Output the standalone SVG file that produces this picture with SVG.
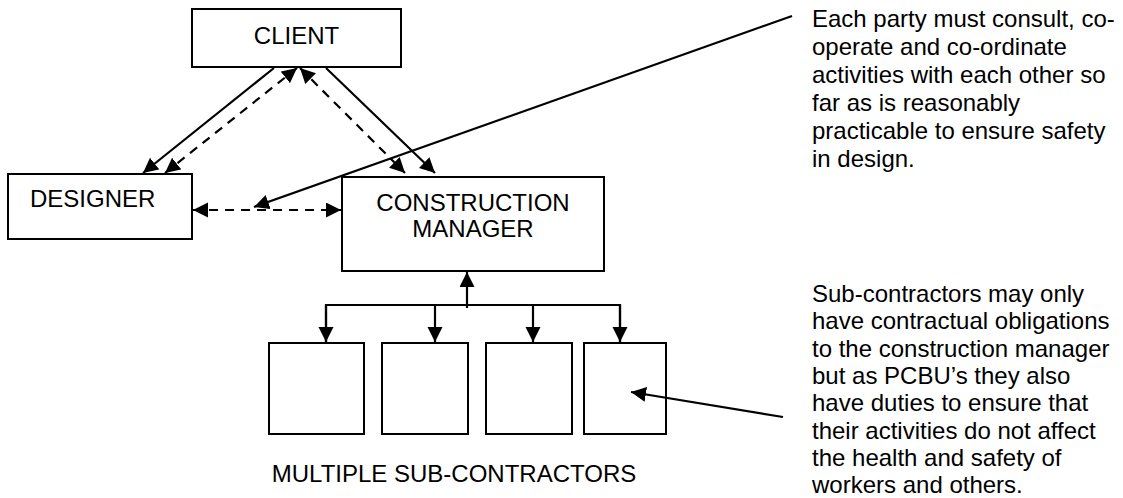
<svg xmlns="http://www.w3.org/2000/svg" width="1123" height="498" viewBox="0 0 1123 498">
<style>
.box{fill:#fff;stroke:#000;stroke-width:2}
.lbl{font-family:"Liberation Sans",Arial,sans-serif;font-size:24px;fill:#000}
.note{font-family:"Liberation Sans",Arial,sans-serif;font-size:24px;fill:#000}
.ln{fill:none;stroke:#000;stroke-width:2.2}
.dash{stroke-dasharray:9 7}
</style>
<defs>
<marker id="ah" markerUnits="userSpaceOnUse" markerWidth="16" markerHeight="16" refX="15" refY="7.5" orient="auto-start-reverse">
<path d="M0,0 L15,7.5 L0,15 z" fill="#000"/>
</marker>
</defs>
<rect width="1123" height="498" fill="#fff"/>
<g id="client"><rect class="box" x="192" y="9" width="209" height="58"/><text class="lbl" x="296.5" y="44" text-anchor="middle">CLIENT</text></g>
<g id="designer"><rect class="box" x="8" y="174" width="184" height="65"/><text class="lbl" x="30" y="207">DESIGNER</text></g>
<g id="cm"><rect class="box" x="342" y="177" width="262" height="94"/><text class="lbl" x="473" y="211" text-anchor="middle">CONSTRUCTION</text><text class="lbl" x="473" y="237" text-anchor="middle">MANAGER</text></g>
<g id="sub1"><rect class="box" x="269" y="343" width="95" height="91"/></g>
<g id="sub2"><rect class="box" x="382" y="343" width="86" height="91"/></g>
<g id="sub3"><rect class="box" x="486" y="343" width="86" height="91"/></g>
<g id="sub4"><rect class="box" x="584" y="343" width="82" height="91"/></g>
<g id="subs-label"><text class="lbl" x="454" y="482" text-anchor="middle">MULTIPLE SUB-CONTRACTORS</text></g>
<g id="note1"><text class="note" x="812"><tspan x="812" y="27">Each party must consult, co-</tspan><tspan x="812" y="55">operate and co-ordinate</tspan><tspan x="812" y="83">activities with each other so</tspan><tspan x="812" y="111">far as is reasonably</tspan><tspan x="812" y="139">practicable to ensure safety</tspan><tspan x="812" y="167">in design.</tspan></text></g>
<g id="note2"><text class="note" x="812"><tspan x="812" y="302">Sub-contractors may only</tspan><tspan x="812" y="329.3">have contractual obligations</tspan><tspan x="812" y="356.6">to the construction manager</tspan><tspan x="812" y="383.9">but as PCBU’s they also</tspan><tspan x="812" y="411.2">have duties to ensure that</tspan><tspan x="812" y="438.5">their activities do not affect</tspan><tspan x="812" y="465.8">the health and safety of</tspan><tspan x="812" y="493">workers and others.</tspan></text></g>
<g id="connectors">
<line class="ln" x1="274" y1="68" x2="143" y2="173" marker-end="url(#ah)"/>
<line class="ln dash" x1="165" y1="173" x2="297" y2="68" marker-start="url(#ah)" marker-end="url(#ah)"/>
<line class="ln dash" x1="300" y1="68" x2="405" y2="173" marker-start="url(#ah)" marker-end="url(#ah)"/>
<line class="ln" x1="326" y1="68" x2="435" y2="173" marker-end="url(#ah)"/>
<line class="ln dash" x1="193" y1="210" x2="341" y2="210" marker-start="url(#ah)" marker-end="url(#ah)"/>
<line class="ln" x1="792" y1="16" x2="254" y2="207" marker-end="url(#ah)"/>
<line class="ln" x1="467" y1="308" x2="467" y2="272" marker-end="url(#ah)"/>
<polyline class="ln" points="326,342 326,305 620,305 620,342"/>
<line class="ln" x1="326" y1="305" x2="326" y2="342" marker-end="url(#ah)"/>
<line class="ln" x1="435" y1="305" x2="435" y2="342" marker-end="url(#ah)"/>
<line class="ln" x1="533" y1="305" x2="533" y2="342" marker-end="url(#ah)"/>
<line class="ln" x1="620" y1="305" x2="620" y2="342" marker-end="url(#ah)"/>
<line class="ln" x1="783" y1="417" x2="631" y2="392" marker-end="url(#ah)"/>
</g>
</svg>
